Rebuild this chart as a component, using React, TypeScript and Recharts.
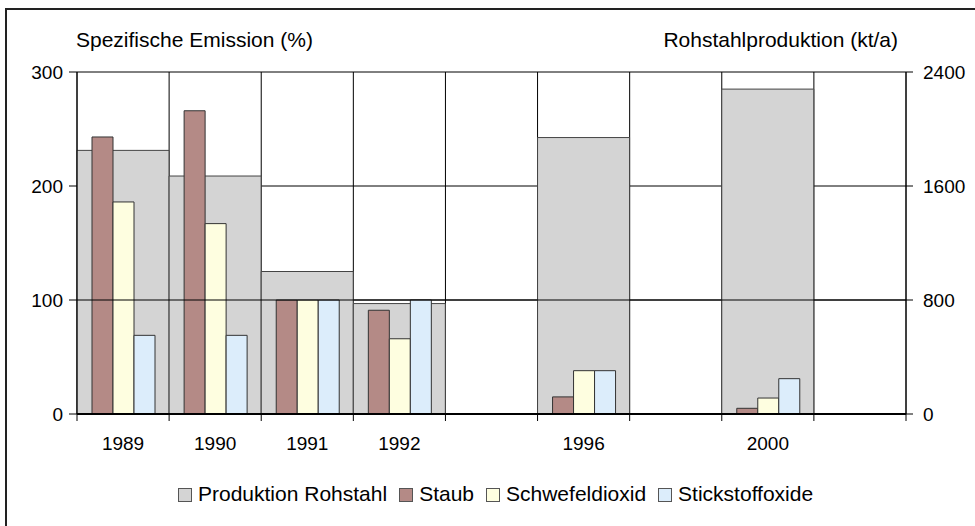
import { BarChart, Bar, XAxis, YAxis, CartesianGrid, ReferenceLine } from "recharts";

// Kategorien (leere Felder = Lücken zwischen den Jahren)
const years = ["1989", "1990", "1991", "1992", "", "1996", "", "2000", ""];

// Rohstahlproduktion in kt/a (rechte Achse)
const produktion = [1850, 1670, 1000, 775, null, 1940, null, 2280, null];

// spezifische Emission in % (linke Achse)
const staub = [243, 266, 100, 91, null, 15, null, 5, null];
const schwefeldioxid = [186, 167, 100, 66, null, 38, null, 14, null];
const stickstoffoxide = [69, 69, 100, 100, null, 38, null, 31, null];

const leftTicks = [0, 100, 200, 300];
const rightTicks = [0, 800, 1600, 2400];

const series = [
  { key: "produktion", name: "Produktion Rohstahl", color: "#d4d4d4" },
  { key: "staub", name: "Staub", color: "#b48a86" },
  { key: "schwefeldioxid", name: "Schwefeldioxid", color: "#fefee0" },
  { key: "stickstoffoxide", name: "Stickstoffoxide", color: "#dcedfb" },
];

const data = years.map((year, i) => ({
  year,
  produktion: produktion[i],
  staub: staub[i],
  schwefeldioxid: schwefeldioxid[i],
  stickstoffoxide: stickstoffoxide[i],
}));

// Layout
const WIDTH = 975;
const HEIGHT = 526;
const PLOT_LEFT = 77;
const PLOT_RIGHT = 906;
const PLOT_TOP = 72;
const PLOT_BOTTOM = 414;
const AXIS_W = 60;
const XAXIS_H = 40;
const X_TICK_SIZE = 7;
const X_TICK_MARGIN = 16;
const FONT = "'Liberation Sans', Arial, sans-serif";

const colorOf = (key: string) => series.find((s) => s.key === key)!.color;

// Jahreslabel mittig, Teilstriche an den Kategoriegrenzen
function YearTick(props: any) {
  const { x, y, payload, index } = props;
  const band = (PLOT_RIGHT - PLOT_LEFT) / years.length;
  const half = payload && payload.offset ? payload.offset : band / 2;
  const axisY = y - X_TICK_SIZE - X_TICK_MARGIN;
  return (
    <g>
      <line x1={x - half} x2={x - half} y1={axisY} y2={axisY + X_TICK_SIZE} stroke="#000" />
      {index === years.length - 1 && (
        <line x1={x + half} x2={x + half} y1={axisY} y2={axisY + X_TICK_SIZE} stroke="#000" />
      )}
      <text x={x} y={y} dy="0.71em" textAnchor="middle" fontSize={19} fill="#000" fontFamily={FONT}>
        {payload.value}
      </text>
    </g>
  );
}

export default function App() {
  return (
    <div
      style={{
        position: "fixed",
        left: 0,
        top: 0,
        width: WIDTH,
        height: HEIGHT,
        overflow: "hidden",
        background: "#fff",
        fontFamily: FONT,
      }}
    >
      {/* Rahmen */}
      <div
        style={{
          position: "absolute",
          left: 5,
          top: 8,
          width: 1100,
          height: 700,
          border: "2px solid #222",
        }}
      />
      <div style={{ position: "absolute", left: 0, top: 0 }}>
        <BarChart
          width={WIDTH}
          height={HEIGHT}
          data={data}
          barCategoryGap={0}
          barGap={0}
          margin={{
            top: PLOT_TOP,
            left: PLOT_LEFT - AXIS_W,
            right: WIDTH - PLOT_RIGHT - AXIS_W,
            bottom: HEIGHT - PLOT_BOTTOM - XAXIS_H,
          }}
        >
          <CartesianGrid
            xAxisId="main"
            yAxisId="left"
            stroke="#000"
            verticalCoordinatesGenerator={({ offset }: any) =>
              years.map((_, i) => offset.left + (i * offset.width) / years.length).concat(offset.left + offset.width)
            }
          />
          <XAxis
            xAxisId="main"
            dataKey="year"
            height={XAXIS_H}
            interval={0}
            tickLine={false}
            tickSize={X_TICK_SIZE}
            tickMargin={X_TICK_MARGIN}
            axisLine={{ stroke: "#000", strokeWidth: 2 }}
            tick={<YearTick />}
          />
          <XAxis xAxisId="back" dataKey="year" orientation="top" height={0} hide />
          <YAxis
            yAxisId="left"
            domain={[0, 300]}
            ticks={leftTicks}
            width={AXIS_W}
            tickSize={8}
            tickMargin={6}
            axisLine={{ stroke: "#000" }}
            tickLine={{ stroke: "#000" }}
            tick={{ fill: "#000", fontSize: 19, fontFamily: FONT }}
          />
          <YAxis
            yAxisId="right"
            orientation="right"
            domain={[0, 2400]}
            ticks={rightTicks}
            width={AXIS_W}
            tickSize={7}
            tickMargin={10}
            axisLine={{ stroke: "#000" }}
            tickLine={{ stroke: "#000" }}
            tick={{ fill: "#000", fontSize: 19, fontFamily: FONT }}
          />
          <Bar
            xAxisId="back"
            yAxisId="right"
            dataKey="produktion"
            name="Produktion Rohstahl"
            fill={colorOf("produktion")}
            stroke="#444"
            strokeWidth={1}
            isAnimationActive={false}
          />
          <ReferenceLine xAxisId="main" yAxisId="left" y={100} stroke="#000" />
          {series.slice(1).map((s) => (
            <Bar
              key={s.key}
              xAxisId="main"
              yAxisId="left"
              dataKey={s.key}
              name={s.name}
              fill={s.color}
              stroke="#333"
              strokeWidth={1}
              barSize={21}
              isAnimationActive={false}
            />
          ))}
        </BarChart>
      </div>

      {/* Achsentitel */}
      <div style={{ position: "absolute", left: 76, top: 29, fontSize: 21, lineHeight: "21px", color: "#000" }}>
        Spezifische Emission (%)
      </div>
      <div style={{ position: "absolute", right: WIDTH - 898, top: 29, fontSize: 21, lineHeight: "21px", color: "#000" }}>
        Rohstahlproduktion (kt/a)
      </div>

      {/* Legende */}
      <div
        style={{
          position: "absolute",
          left: 178,
          top: 483,
          display: "flex",
          alignItems: "flex-start",
          fontSize: 21,
          lineHeight: "21px",
          color: "#000",
          whiteSpace: "nowrap",
        }}
      >
        {series.map((s, i) => (
          <div key={s.key} style={{ display: "flex", alignItems: "flex-start", marginRight: i < series.length - 1 ? 12 : 0 }}>
            <div
              style={{
                width: 12,
                height: 12,
                marginTop: 5,
                marginRight: 6,
                background: s.color,
                border: "1px solid #555",
              }}
            />
            <span>{s.name}</span>
          </div>
        ))}
      </div>
    </div>
  );
}
